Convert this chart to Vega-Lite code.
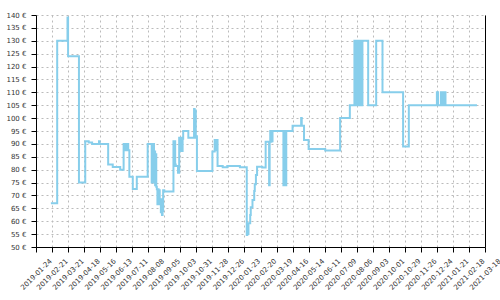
{
  "$schema": "https://vega.github.io/schema/vega-lite/v6.json",
  "width": 449,
  "height": 232,
  "autosize": "none",
  "padding": {"left": 36, "top": 15, "right": 15, "bottom": 53},
  "background": "white",
  "config": {
    "view": {"stroke": null},
    "axis": {
      "domainColor": "#000000",
      "domainWidth": 1,
      "tickColor": "#000000",
      "tickSize": 5,
      "tickWidth": 1,
      "labelColor": "#333333",
      "labelFont": "DejaVu Sans",
      "labelFontSize": 7,
      "labelOverlap": false,
      "labelBound": false,
      "labelFlush": false,
      "gridColor": "#bbbbbb",
      "gridDash": [2, 3],
      "gridWidth": 1,
      "title": null
    }
  },
  "data": {
    "values": [
      {"date": "2019-02-19", "price": 67},
      {"date": "2019-03-02", "price": 130},
      {"date": "2019-03-20", "price": 139},
      {"date": "2019-03-21", "price": 124},
      {"date": "2019-04-09", "price": 75},
      {"date": "2019-04-20", "price": 91},
      {"date": "2019-04-26", "price": 90.5},
      {"date": "2019-05-02", "price": 90},
      {"date": "2019-05-14", "price": 91},
      {"date": "2019-05-15", "price": 90},
      {"date": "2019-05-30", "price": 82},
      {"date": "2019-06-07", "price": 81},
      {"date": "2019-06-20", "price": 80},
      {"date": "2019-06-26", "price": 90},
      {"date": "2019-06-27", "price": 88.5},
      {"date": "2019-06-28", "price": 90},
      {"date": "2019-06-29", "price": 87.5},
      {"date": "2019-06-30", "price": 90},
      {"date": "2019-07-01", "price": 87.5},
      {"date": "2019-07-03", "price": 90},
      {"date": "2019-07-04", "price": 87.5},
      {"date": "2019-07-06", "price": 77.3},
      {"date": "2019-07-12", "price": 72.5},
      {"date": "2019-07-19", "price": 77.3},
      {"date": "2019-08-07", "price": 90},
      {"date": "2019-08-14", "price": 75},
      {"date": "2019-08-15", "price": 90},
      {"date": "2019-08-16", "price": 75},
      {"date": "2019-08-17", "price": 90},
      {"date": "2019-08-18", "price": 76},
      {"date": "2019-08-19", "price": 87},
      {"date": "2019-08-20", "price": 74},
      {"date": "2019-08-21", "price": 86},
      {"date": "2019-08-22", "price": 73.4},
      {"date": "2019-08-23", "price": 72.4},
      {"date": "2019-08-24", "price": 66.6},
      {"date": "2019-08-25", "price": 72.4},
      {"date": "2019-08-26", "price": 66.6},
      {"date": "2019-08-27", "price": 72},
      {"date": "2019-08-28", "price": 66.6},
      {"date": "2019-08-29", "price": 68.5},
      {"date": "2019-08-30", "price": 63.5},
      {"date": "2019-08-31", "price": 68.5},
      {"date": "2019-09-01", "price": 62.4},
      {"date": "2019-09-02", "price": 64},
      {"date": "2019-09-03", "price": 72},
      {"date": "2019-09-05", "price": 71.5},
      {"date": "2019-09-21", "price": 91},
      {"date": "2019-09-22", "price": 81.4},
      {"date": "2019-09-23", "price": 91},
      {"date": "2019-09-24", "price": 82},
      {"date": "2019-09-25", "price": 81.4},
      {"date": "2019-09-29", "price": 78.8},
      {"date": "2019-10-01", "price": 92.4},
      {"date": "2019-10-02", "price": 87.2},
      {"date": "2019-10-03", "price": 92.4},
      {"date": "2019-10-04", "price": 87.2},
      {"date": "2019-10-05", "price": 92.4},
      {"date": "2019-10-06", "price": 87.2},
      {"date": "2019-10-07", "price": 92},
      {"date": "2019-10-08", "price": 95},
      {"date": "2019-10-17", "price": 92.4},
      {"date": "2019-10-27", "price": 103.5},
      {"date": "2019-10-28", "price": 92.4},
      {"date": "2019-10-29", "price": 103},
      {"date": "2019-10-30", "price": 93},
      {"date": "2019-11-01", "price": 79.5},
      {"date": "2019-11-28", "price": 87},
      {"date": "2019-12-02", "price": 91.5},
      {"date": "2019-12-03", "price": 87.5},
      {"date": "2019-12-04", "price": 91.5},
      {"date": "2019-12-07", "price": 81.4},
      {"date": "2019-12-16", "price": 80.9},
      {"date": "2019-12-24", "price": 81.4},
      {"date": "2020-01-15", "price": 80.9},
      {"date": "2020-01-27", "price": 54.7},
      {"date": "2020-01-28", "price": 59},
      {"date": "2020-01-29", "price": 55},
      {"date": "2020-01-30", "price": 59.2},
      {"date": "2020-02-02", "price": 62.4},
      {"date": "2020-02-03", "price": 65.4},
      {"date": "2020-02-06", "price": 68.2},
      {"date": "2020-02-09", "price": 71.7},
      {"date": "2020-02-10", "price": 74.3},
      {"date": "2020-02-12", "price": 77.9},
      {"date": "2020-02-14", "price": 81.1},
      {"date": "2020-02-23", "price": 80.8},
      {"date": "2020-02-29", "price": 90.8},
      {"date": "2020-03-06", "price": 74},
      {"date": "2020-03-07", "price": 90.8},
      {"date": "2020-03-08", "price": 95},
      {"date": "2020-03-09", "price": 90.8},
      {"date": "2020-03-10", "price": 95},
      {"date": "2020-03-11", "price": 91},
      {"date": "2020-03-12", "price": 95},
      {"date": "2020-03-31", "price": 74},
      {"date": "2020-04-01", "price": 95},
      {"date": "2020-04-02", "price": 74},
      {"date": "2020-04-03", "price": 95},
      {"date": "2020-04-04", "price": 74},
      {"date": "2020-04-05", "price": 95},
      {"date": "2020-04-16", "price": 97},
      {"date": "2020-05-01", "price": 100},
      {"date": "2020-05-02", "price": 97},
      {"date": "2020-05-06", "price": 91.5},
      {"date": "2020-05-14", "price": 88},
      {"date": "2020-06-12", "price": 87.4},
      {"date": "2020-07-08", "price": 100},
      {"date": "2020-07-25", "price": 105},
      {"date": "2020-08-02", "price": 130},
      {"date": "2020-08-03", "price": 105},
      {"date": "2020-08-04", "price": 130},
      {"date": "2020-08-05", "price": 105},
      {"date": "2020-08-06", "price": 130},
      {"date": "2020-08-07", "price": 105},
      {"date": "2020-08-08", "price": 130},
      {"date": "2020-08-09", "price": 105},
      {"date": "2020-08-10", "price": 130},
      {"date": "2020-08-13", "price": 105},
      {"date": "2020-08-16", "price": 130},
      {"date": "2020-08-26", "price": 105},
      {"date": "2020-09-09", "price": 130},
      {"date": "2020-09-20", "price": 110},
      {"date": "2020-10-26", "price": 89},
      {"date": "2020-11-05", "price": 105},
      {"date": "2020-12-24", "price": 110},
      {"date": "2020-12-26", "price": 105},
      {"date": "2020-12-31", "price": 110},
      {"date": "2021-01-01", "price": 105},
      {"date": "2021-01-02", "price": 110},
      {"date": "2021-01-03", "price": 105},
      {"date": "2021-01-04", "price": 110},
      {"date": "2021-01-05", "price": 105},
      {"date": "2021-01-06", "price": 110},
      {"date": "2021-01-08", "price": 105},
      {"date": "2021-03-04", "price": 105}
    ]
  },
  "layer": [
    {
      "mark": {"type": "line", "interpolate": "step-after", "color": "#87CEEB", "strokeWidth": 2},
      "encoding": {
        "x": {
          "field": "date",
          "type": "temporal",
          "scale": {
            "type": "utc",
            "nice": false,
            "domain": [
              {"year": 2019, "month": 1, "date": 24, "utc": true},
              {"year": 2021, "month": 3, "date": 18, "utc": true}
            ]
          },
          "axis": {
            "format": "%Y-%m-%d",
            "labelAngle": -45,
            "labelAlign": "center",
            "labelBaseline": "middle",
            "labelPadding": 22,
            "values": [
              {"year": 2019, "month": 1, "date": 24, "utc": true},
              {"year": 2019, "month": 2, "date": 21, "utc": true},
              {"year": 2019, "month": 3, "date": 21, "utc": true},
              {"year": 2019, "month": 4, "date": 18, "utc": true},
              {"year": 2019, "month": 5, "date": 16, "utc": true},
              {"year": 2019, "month": 6, "date": 13, "utc": true},
              {"year": 2019, "month": 7, "date": 11, "utc": true},
              {"year": 2019, "month": 8, "date": 8, "utc": true},
              {"year": 2019, "month": 9, "date": 5, "utc": true},
              {"year": 2019, "month": 10, "date": 3, "utc": true},
              {"year": 2019, "month": 10, "date": 31, "utc": true},
              {"year": 2019, "month": 11, "date": 28, "utc": true},
              {"year": 2019, "month": 12, "date": 26, "utc": true},
              {"year": 2020, "month": 1, "date": 23, "utc": true},
              {"year": 2020, "month": 2, "date": 20, "utc": true},
              {"year": 2020, "month": 3, "date": 19, "utc": true},
              {"year": 2020, "month": 4, "date": 16, "utc": true},
              {"year": 2020, "month": 5, "date": 14, "utc": true},
              {"year": 2020, "month": 6, "date": 11, "utc": true},
              {"year": 2020, "month": 7, "date": 9, "utc": true},
              {"year": 2020, "month": 8, "date": 6, "utc": true},
              {"year": 2020, "month": 9, "date": 3, "utc": true},
              {"year": 2020, "month": 10, "date": 1, "utc": true},
              {"year": 2020, "month": 10, "date": 29, "utc": true},
              {"year": 2020, "month": 11, "date": 26, "utc": true},
              {"year": 2020, "month": 12, "date": 24, "utc": true},
              {"year": 2021, "month": 1, "date": 21, "utc": true},
              {"year": 2021, "month": 2, "date": 18, "utc": true},
              {"year": 2021, "month": 3, "date": 18, "utc": true}
            ]
          }
        },
        "y": {
          "field": "price",
          "type": "quantitative",
          "scale": {"domain": [50, 140], "nice": false, "zero": false},
          "axis": {
            "values": [50, 55, 60, 65, 70, 75, 80, 85, 90, 95, 100, 105, 110, 115, 120, 125, 130, 135, 140],
            "labelExpr": "datum.value + ' €'",
            "labelPadding": 5
          }
        }
      }
    },
    {
      "mark": {"type": "rule", "opacity": 0},
      "encoding": {
        "y": {
          "datum": 50,
          "type": "quantitative",
          "axis": {"orient": "right", "labels": false, "ticks": false, "grid": false, "domainColor": "#000000"}
        }
      }
    }
  ],
  "resolve": {"axis": {"y": "independent"}}
}
